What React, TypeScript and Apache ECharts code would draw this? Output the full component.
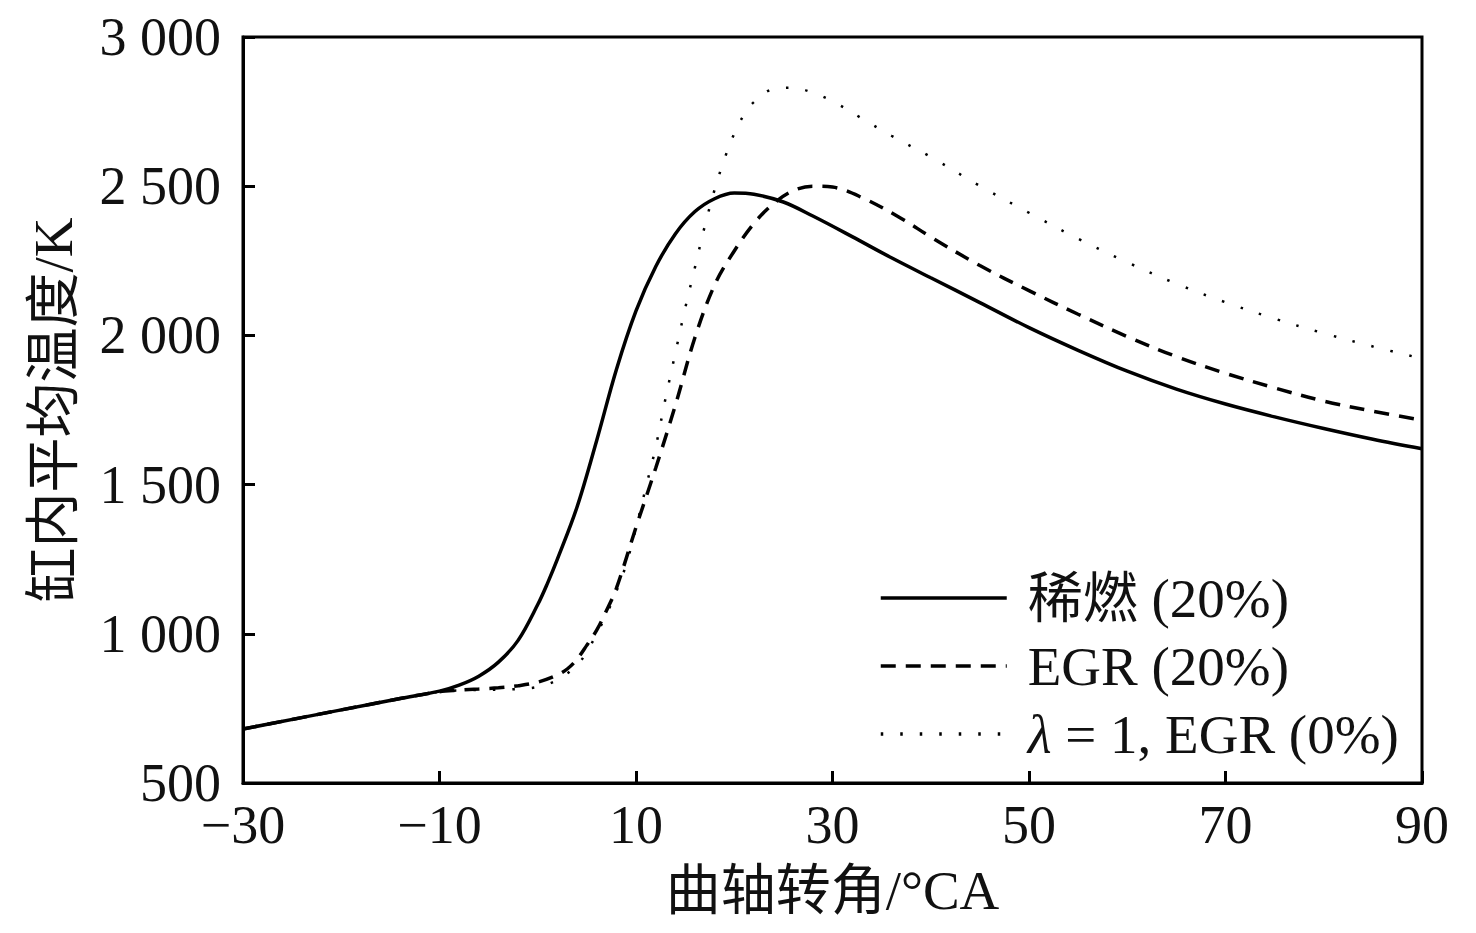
import React, { useEffect, useRef } from "react";
import * as echarts from "echarts";

const leanX = [-30, -20, -14, -10, -8, -6, -4, -2, 0, 1, 2, 4, 6, 8, 10, 12, 14, 16, 18, 20, 22, 25, 28, 32, 36, 40, 45, 50, 55, 60, 65, 70, 75, 80, 85, 90];
const leanT = [681, 745, 783, 808, 828, 858, 905, 978, 1098, 1170, 1250, 1425, 1648, 1885, 2082, 2230, 2340, 2415, 2458, 2477, 2473, 2447, 2400, 2331, 2260, 2193, 2110, 2026, 1950, 1880, 1820, 1770, 1727, 1688, 1652, 1620];

const egrX = [-30, -20, -14, -10, -8, -6, -4, -2, 0, 2, 3, 4, 5, 6, 7, 8, 10, 12, 14, 16, 18, 20, 22, 24, 26, 28, 30, 33, 37, 40, 45, 50, 55, 60, 65, 70, 75, 80, 85, 90];
const egrT = [681, 745, 783, 806, 811, 815, 819, 826, 838, 862, 882, 915, 962, 1012, 1078, 1152, 1357, 1555, 1765, 1993, 2169, 2283, 2375, 2442, 2485, 2500, 2497, 2462, 2392, 2330, 2234, 2150, 2071, 1996, 1929, 1873, 1824, 1780, 1746, 1716];

const stoichX = [-30, -20, -14, -10, -8, -6, -4, -2, 0, 2, 4, 5, 6, 7, 8, 9, 10, 11, 12, 13, 14, 15, 16, 17, 18, 19, 20, 21, 22, 24, 26, 28, 30, 33, 36, 40, 45, 50, 55, 60, 65, 70, 75, 80, 85, 90];
const stoichT = [681, 745, 783, 806, 810, 812, 813, 815, 822, 845, 895, 940, 1000, 1065, 1142, 1232, 1355, 1490, 1625, 1788, 1940, 2090, 2228, 2366, 2488, 2591, 2676, 2740, 2782, 2826, 2830, 2813, 2785, 2727, 2669, 2598, 2501, 2411, 2324, 2245, 2173, 2111, 2056, 2007, 1963, 1922];

const seriesNames = ["稀燃 (20%)", "EGR (20%)", "λ = 1, EGR (0%)"];
const yTickLabels: Record<number, string> = { 500: "500", 1000: "1 000", 1500: "1 500", 2000: "2 000", 2500: "2 500", 3000: "3 000" };
const xAxisName = "曲轴转角/°CA";
const yAxisName = "缸内平均温度/K";

const FONT = "'Liberation Serif', 'Times New Roman', 'Noto Sans CJK SC', serif";

const pairs = (xs: number[], ys: number[]) => xs.map((x, i) => [x, ys[i]]);

export default function App() {
  const ref = useRef<HTMLDivElement>(null);
  useEffect(() => {
    if (!ref.current) return;
    const chart = echarts.init(ref.current, undefined, { renderer: "svg" });
    const axisLine = { show: true, onZero: false, lineStyle: { color: "#000", width: 3 } };
    chart.setOption({
      animation: false,
      backgroundColor: "#fff",
      grid: { left: 243, right: 54, top: 37, bottom: 150, show: true, borderColor: "#000", borderWidth: 3 },
      legend: {
        orient: "vertical",
        left: 879,
        top: 570,
        padding: 0,
        itemWidth: 126,
        itemHeight: 14,
        itemGap: 12,
        data: seriesNames,
        itemStyle: { opacity: 0 },
        lineStyle: { width: 3.5 },
        formatter: (name: string) => (name.startsWith("λ") ? "{i|λ}" + name.slice(1) : name),
        textStyle: {
          fontFamily: FONT,
          fontSize: 55,
          color: "#111",
          lineHeight: 56,
          padding: [0, 0, 0, 16],
          rich: { i: { fontFamily: FONT, fontStyle: "italic", fontSize: 55, color: "#111", lineHeight: 56 } },
        },
      },
      xAxis: {
        type: "value",
        min: -30,
        max: 90,
        interval: 20,
        name: xAxisName,
        nameLocation: "middle",
        nameGap: 80,
        nameTextStyle: { fontFamily: FONT, fontSize: 55, color: "#111" },
        axisLine,
        axisTick: { show: true, inside: true, length: 12, lineStyle: { color: "#000", width: 3 } },
        axisLabel: {
          fontFamily: FONT,
          fontSize: 54,
          color: "#111",
          margin: 15,
          formatter: (v: number) => (v < 0 ? "\u2212" + Math.abs(v) : String(v)),
        },
        splitLine: { show: false },
      },
      yAxis: {
        type: "value",
        min: 500,
        max: 3000,
        interval: 500,
        name: yAxisName,
        nameLocation: "middle",
        nameGap: 162,
        nameTextStyle: { fontFamily: FONT, fontSize: 55, color: "#111" },
        axisLine,
        axisTick: { show: true, inside: true, length: 12, lineStyle: { color: "#000", width: 3 } },
        axisLabel: {
          fontFamily: FONT,
          fontSize: 54,
          color: "#111",
          margin: 22,
          formatter: (v: number) => yTickLabels[v] ?? String(v),
        },
        splitLine: { show: false },
      },
      series: [
        {
          name: seriesNames[0],
          type: "line",
          data: pairs(leanX, leanT),
          smooth: 0.35,
          symbol: "none",
          lineStyle: { color: "#000", width: 3.5, type: "solid" },
          itemStyle: { color: "#000" },
          z: 3,
        },
        {
          name: seriesNames[1],
          type: "line",
          data: pairs(egrX, egrT),
          smooth: 0.35,
          symbol: "none",
          lineStyle: { color: "#000", width: 3.5, type: [15, 10] },
          itemStyle: { color: "#000" },
          z: 2,
        },
        {
          name: seriesNames[2],
          type: "line",
          data: pairs(stoichX, stoichT),
          smooth: 0.35,
          symbol: "none",
          lineStyle: { color: "#000", width: 2.5, type: [2.5, 17] },
          itemStyle: { color: "#000" },
          z: 1,
        },
      ],
    });
    return () => chart.dispose();
  }, []);
  return <div ref={ref} style={{ position: "fixed", left: 0, top: 0, width: 1476, height: 933 }} />;
}
